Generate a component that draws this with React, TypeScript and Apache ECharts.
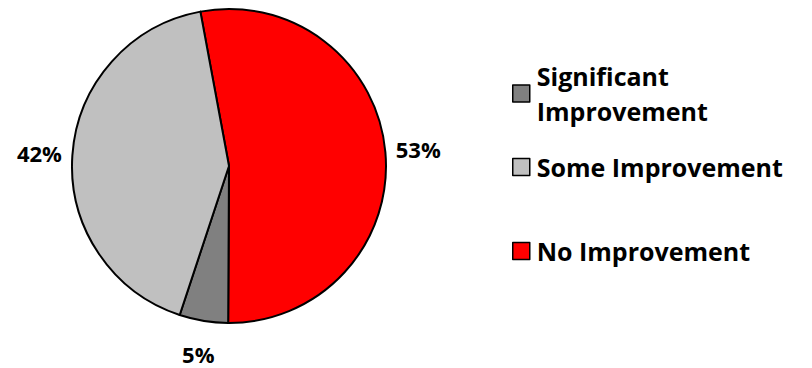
import React, { useEffect, useRef } from "react";
import * as echarts from "echarts";

const categories = ["No Improvement", "Significant Improvement", "Some Improvement"];
const values = [53, 5, 42];
const colors = ["#FF0000", "#808080", "#C0C0C0"];
const legendOrder = ["Significant Improvement", "Some Improvement", "No Improvement"];

export default function App() {
  const ref = useRef<HTMLDivElement>(null);
  useEffect(() => {
    if (!ref.current) return;
    document.body.style.margin = "0";
    const chart = echarts.init(ref.current, null, { renderer: "svg" });
    const font = "'Open Sans', sans-serif";
    const data = categories.map((name, i) => ({
      name,
      value: values[i],
      itemStyle: { color: colors[i] },
    }));
    const legendBase = {
      orient: "vertical" as const,
      left: 507,
      icon: "rect",
      itemWidth: 17,
      itemHeight: 17,
      selectedMode: false,
      itemStyle: { borderColor: "#000", borderWidth: 1.5 },
    };
    const legendText = {
      fontFamily: font,
      fontWeight: "bold",
      fontSize: 25,
      color: "#000",
    };
    chart.setOption({
      animation: false,
      legend: [
        {
          ...legendBase,
          top: 36,
          data: [legendOrder[0]],
          formatter: () => "Significant\nImprovement",
          textStyle: { ...legendText, lineHeight: 35, padding: [35, 0, 0, 2] },
        },
        {
          ...legendBase,
          top: 147,
          data: [legendOrder[1]],
          textStyle: { ...legendText, lineHeight: 30, padding: [0, 0, 0, 2] },
        },
        {
          ...legendBase,
          top: 231,
          data: [legendOrder[2]],
          textStyle: { ...legendText, lineHeight: 30, padding: [0, 0, 0, 2] },
        },
      ],
      series: [
        {
          type: "pie",
          center: [229, 166],
          radius: 157,
          startAngle: 100.5,
          clockwise: true,
          data,
          label: { show: false },
          labelLine: { show: false },
          itemStyle: { borderColor: "#000", borderWidth: 2 },
          emphasis: { disabled: true },
          silent: true,
        },
        {
          type: "pie",
          center: [229, 166],
          radius: [167, 207],
          startAngle: 100.5,
          clockwise: true,
          data: categories.map((name, i) => ({ name, value: values[i] })),
          itemStyle: { color: "transparent", borderWidth: 0 },
          label: {
            show: true,
            position: "inside",
            formatter: (p: any) => `${p.value}%`,
            fontFamily: font,
            fontWeight: "bold",
            fontSize: 22,
            lineHeight: 20,
            color: "#000",
          },
          labelLine: { show: false },
          emphasis: { disabled: true },
          silent: true,
        },
      ],
    });
    return () => chart.dispose();
  }, []);
  return <div ref={ref} style={{ width: 812, height: 368 }} />;
}
